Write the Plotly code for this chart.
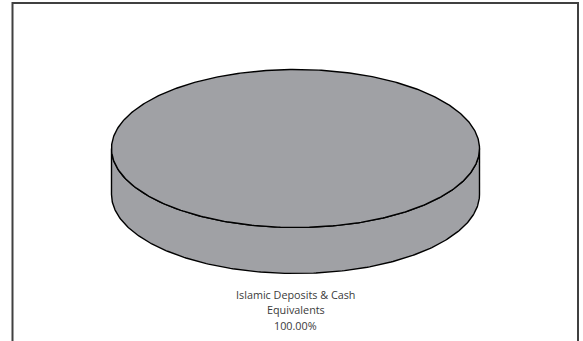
import numpy as np
import plotly.graph_objects as go

# Portfolio composition
categories = ["Islamic Deposits & Cash Equivalents"]
shares = [100.00]
label_lines = [["Islamic Deposits & Cash", "Equivalents"]]

W, H = 583, 341
CX, CY = 295.5, 148.5      # centre of the top face (px)
RX, RY = 184, 79           # radii of the top face (px)
DEPTH = 46                 # thickness of the disc (px)
FILL = "#a0a1a5"
EDGE = dict(color="#000000", width=1.4)
LINE_GAP = 15.5            # label line spacing (px)

fig = go.Figure()


def ellipse_pts(a0, a1, dy=0.0, n=240):
    t = np.linspace(a0, a1, n)
    return CX + RX * np.cos(t), CY + dy + RY * np.sin(t)


total = float(sum(shares))
angle = 0.0
sides, tops = [], []
for share in shares:
    frac = share / total
    a0, a1 = angle, angle + 2 * np.pi * frac
    angle = a1
    # the front rim is the lower half of the ellipse: angles 0..pi (screen y down)
    for k in range(-1, 2):
        s0 = max(a0, 2 * np.pi * k)
        s1 = min(a1, 2 * np.pi * k + np.pi)
        if s1 > s0:
            xt, yt = ellipse_pts(s0, s1)
            xb, yb = ellipse_pts(s0, s1, dy=DEPTH)
            sides.append((np.concatenate([xt, xb[::-1], xt[:1]]),
                          np.concatenate([yt, yb[::-1], yt[:1]])))
    if frac >= 0.9999:
        xt, yt = ellipse_pts(0, 2 * np.pi, n=480)
    else:
        xe, ye = ellipse_pts(a0, a1)
        xt = np.concatenate([[CX], xe, [CX]])
        yt = np.concatenate([[CY], ye, [CY]])
    tops.append((xt, yt))

for xs, ys in sides + tops:
    fig.add_trace(go.Scatter(x=xs, y=ys, mode="lines", fill="toself",
                             fillcolor=FILL, line=EDGE, hoverinfo="skip",
                             showlegend=False))

# slice label under the disc, one annotation per line
for lines, share in zip(label_lines, shares):
    for i, txt in enumerate(lines + [f"{share:.2f}%"]):
        fig.add_annotation(x=CX, y=CY + RY + DEPTH + 20.5 + i * LINE_GAP,
                           xref="x", yref="y", text=txt, showarrow=False,
                           yanchor="middle", xanchor="center",
                           font=dict(family="Open Sans", size=10.8,
                                     color="#3a3a3a"))

# chart frame
fig.add_shape(type="rect", x0=12.5, y0=3, x1=578, y1=H + 10, xref="x", yref="y",
              line=dict(color="#404040", width=2), fillcolor="rgba(0,0,0,0)",
              layer="above")

fig.update_layout(
    width=W, height=H,
    margin=dict(l=0, r=0, t=0, b=0),
    paper_bgcolor="white", plot_bgcolor="white",
    xaxis=dict(range=[0, W], visible=False, fixedrange=True),
    yaxis=dict(range=[H, 0], visible=False, fixedrange=True),
)

fig.write_html("out.html")
